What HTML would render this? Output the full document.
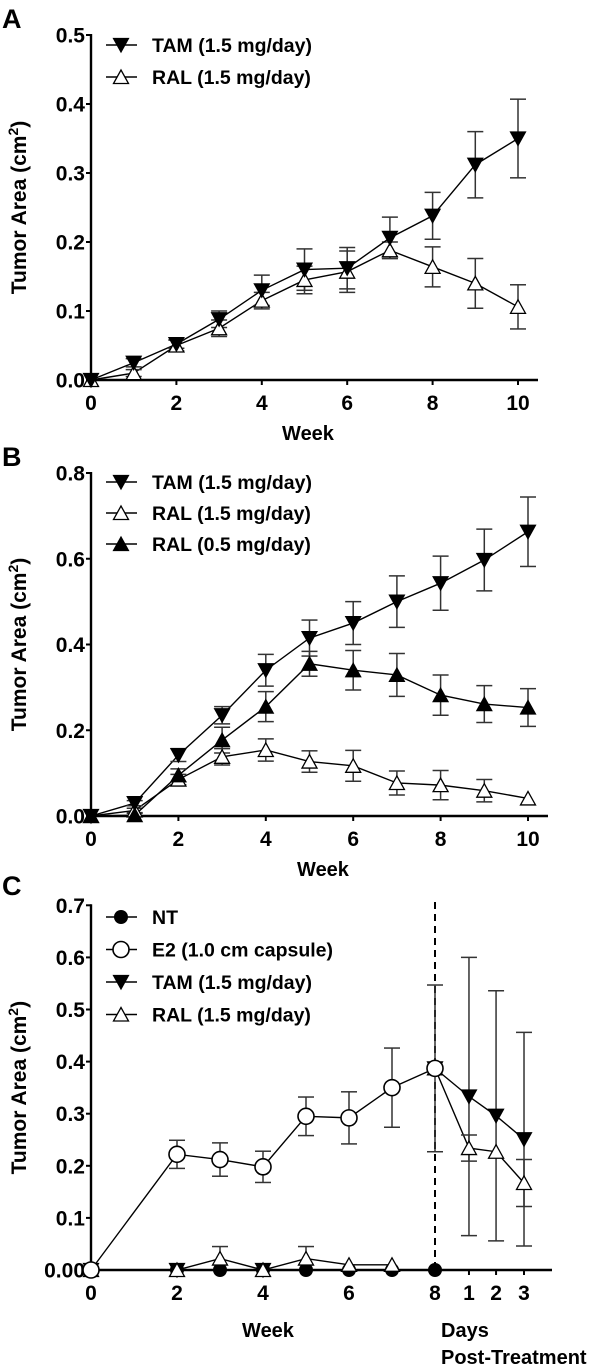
<!DOCTYPE html>
<html><head><meta charset="utf-8">
<style>
html,body{margin:0;padding:0;background:#fff;}
svg{display:block;}
text{font-family:"Liberation Sans",Arial,sans-serif;font-weight:bold;fill:#000;}
</style></head>
<body>
<svg id="fig" width="600" height="1367" viewBox="0 0 600 1367" xmlns="http://www.w3.org/2000/svg"></svg>
<script>
// ---------- Panel A data ----------
const weeksAB = [0,1,2,3,4,5,6,7,8,9,10];
const aTickX = [0,2,4,6,8,10];
const aTickY = [0,0.1,0.2,0.3,0.4,0.5];
const aTickYLabels = ["0.0","0.1","0.2","0.3","0.4","0.5"];
const aTam = [0,0.025,0.052,0.088,0.13,0.16,0.162,0.206,0.238,0.312,0.35];
const aTamErr = [0,0.006,0.006,0.012,0.022,0.03,0.03,0.03,0.034,0.048,0.057];
const aRal = [0,0.01,0.05,0.075,0.115,0.145,0.157,0.188,0.164,0.14,0.106];
const aRalErr = [0,0.005,0.008,0.012,0.012,0.02,0.03,0.012,0.029,0.036,0.032];

// ---------- Panel B data ----------
const bTickX = [0,2,4,6,8,10];
const bTickY = [0,0.2,0.4,0.6,0.8];
const bTickYLabels = ["0.0","0.2","0.4","0.6","0.8"];
const bTam = [0,0.03,0.142,0.235,0.34,0.415,0.45,0.5,0.543,0.597,0.663];
const bTamErr = [0,0.006,0.015,0.02,0.037,0.042,0.05,0.06,0.063,0.072,0.081];
const bRal15 = [0,0.013,0.085,0.138,0.154,0.127,0.117,0.077,0.072,0.059,0.041];
const bRal15Err = [0,0.005,0.012,0.019,0.026,0.025,0.036,0.028,0.034,0.026,0];
const bRal05 = [0,0.002,0.095,0.177,0.255,0.355,0.34,0.329,0.282,0.261,0.253];
const bRal05Err = [0,0.004,0.015,0.03,0.035,0.029,0.046,0.05,0.047,0.043,0.044];

// ---------- Panel C data ----------
const cX = [0,2,3,4,5,6,7,8,8.79,9.42,10.07];
const cTickX = [0,2,4,6,8,8.79,9.42,10.07];
const cTickXLabels = ["0","2","4","6","8","1","2","3"];
const cTickY = [0,0.1,0.2,0.3,0.4,0.5,0.6,0.7];
const cTickYLabels = ["0.00","0.1","0.2","0.3","0.4","0.5","0.6","0.7"];
const cNT = [0,0,0,0,0,0,0,0,null,null,null];
const cE2 = [0,0.222,0.212,0.198,0.295,0.292,0.35,0.387,null,null,null];
const cE2Err = [0,0.027,0.032,0.03,0.037,0.05,0.076,0.16,0,0,0];
const cTam = [0,0,null,0,null,null,null,0.387,0.333,0.296,0.251];
const cTamErr = [0,0,0,0,0,0,0,0,0.267,0.24,0.205];
const cRal = [0,0,0.022,0,0.022,0.01,0.01,0.387,0.234,0.227,0.167];
const cRalErr = [0,0,0.023,0,0.023,0,0,0,0.025,0,0.045];
const cBreakIndex = 7; // post-treatment segment starts at week 8

const NS = "http://www.w3.org/2000/svg";
const svg = document.getElementById('fig');
function mk(tag, attrs, parent){
  const e = document.createElementNS(NS, tag);
  for (const k in attrs) e.setAttribute(k, attrs[k]);
  (parent||svg).appendChild(e);
  return e;
}
function txt(s, x, y, size, anchor, parent){
  const t = mk('text', {x:x, y:y, 'font-size':size, 'text-anchor':anchor||'start'}, parent);
  t.textContent = s;
  return t;
}
function marker(kind, x, y, g){
  let e;
  if (kind==='down') e = mk('polygon',{points:`${x-7.5},${y-6.5} ${x+7.5},${y-6.5} ${x},${y+7}`,fill:'#000',stroke:'#000','stroke-width':1.2},g);
  else if (kind==='up') e = mk('polygon',{points:`${x-7.5},${y+6.5} ${x+7.5},${y+6.5} ${x},${y-7}`,fill:'#000',stroke:'#000','stroke-width':1.2},g);
  else if (kind==='upOpen') e = mk('polygon',{points:`${x-7.5},${y+6.5} ${x+7.5},${y+6.5} ${x},${y-7}`,fill:'#fff',stroke:'#000','stroke-width':1.3},g);
  else if (kind==='dot') e = mk('circle',{cx:x,cy:y,r:7,fill:'#000'},g);
  else e = mk('circle',{cx:x,cy:y,r:8,fill:'#fff',stroke:'#000','stroke-width':1.6},g);
  return e;
}

function panel(cfg){
  const g = mk('g',{});
  
  
  const sx = v => cfg.x0 + v*cfg.xs;
  const sy = v => cfg.y0 - v*cfg.ys;
  const L = txt(cfg.letter, 2, cfg.letterY, 27, 'start', g);
  
  
  const ymax = cfg.tickY[cfg.tickY.length-1];
  const ya = mk('line',{x1:cfg.x0,y1:sy(ymax)-1,x2:cfg.x0,y2:cfg.y0+1.2,stroke:'#000','stroke-width':2.4},g);
  
  
  const xa = mk('line',{x1:cfg.x0-1.2,y1:cfg.y0,x2:cfg.xEnd,y2:cfg.y0,stroke:'#000','stroke-width':2.4},g);
  
  
  cfg.tickY.forEach((v,i)=>{
    mk('line',{x1:cfg.x0-5,y1:sy(v),x2:cfg.x0,y2:sy(v),stroke:'#000','stroke-width':2},g);
    const t = txt(cfg.tickYLabels[i], cfg.x0-6, sy(v)+7.5, 21, 'end', g);
    
    
  });
  cfg.tickX.forEach((v,i)=>{
    mk('line',{x1:sx(v),y1:cfg.y0,x2:sx(v),y2:cfg.y0+5,stroke:'#000','stroke-width':2},g);
    const t = txt(cfg.tickXLabels[i], sx(v), cfg.y0+30, 21, 'middle', g);
    
    
  });
  const cy = (sy(ymax)+cfg.y0)/2;
  const yt = txt('Tumor Area (cm', 0, 0, 21, 'middle', g);
  yt.setAttribute('transform', `translate(26,${cy}) rotate(-90)`);
  const sup = document.createElementNS(NS,'tspan');
  sup.setAttribute('font-size','14'); sup.setAttribute('dy','-8'); sup.textContent='2';
  yt.appendChild(sup);
  const cl = document.createElementNS(NS,'tspan');
  cl.setAttribute('dy','8'); cl.textContent=')';
  yt.appendChild(cl);
  
  
  cfg.extra && cfg.extra(g, sx, sy);
  cfg.series.forEach(s=>{
    const sg = mk('g',{},g);
    
    
    const segs = [[]];
    s.vals.forEach((v,i)=>{
      if (s.brk !== undefined && i === s.brk) segs.push([]);
      if(v!==null) segs[segs.length-1].push([sx(cfg.xv[i]), sy(v)]);
    });
    segs.forEach(pts=>{
      if (pts.length<2) return;
      const pl = mk('polyline',{points:pts.map(p=>p.join(',')).join(' '),fill:'none',stroke:'#000','stroke-width':1.4},sg);
      
      
    });
    s.vals.forEach((v,i)=>{
      if(v===null || !s.err || !s.err[i]) return;
      const x = sx(cfg.xv[i]);
      const e = s.err[i];
      const eg = mk('g',{stroke:'#333','stroke-width':1.5},sg);
      
      
      mk('line',{x1:x,y1:sy(v+e),x2:x,y2:sy(Math.max(v-e,0))},eg);
      mk('line',{x1:x-8,y1:sy(v+e),x2:x+8,y2:sy(v+e)},eg);
      if (v-e>0) mk('line',{x1:x-8,y1:sy(v-e),x2:x+8,y2:sy(v-e)},eg);
    });
  });
  cfg.series.forEach(s=>{
    s.vals.forEach((v,i)=>{
      if(v===null) return;
      const m = marker(s.kind, sx(cfg.xv[i]), sy(v), g);
      
      
    });
  });
  cfg.legend.forEach((s,i)=>{
    const y = cfg.legY + i*cfg.legDy;
    const lg = mk('g',{},g);
    
    
    mk('line',{x1:106,y1:y,x2:137,y2:y,stroke:'#000','stroke-width':1.4},lg);
    marker(s.kind, 121, y, lg);
    txt(s.label, 152, y+7, 19.5, 'start', lg);
  });
  cfg.xTitles.forEach(t=>{
    const e = txt(t[0], t[1], t[2], 20, t[3]||'middle', g);
    
    
  });
}

panel({name:'panel-a', letter:'A', letterY:28, x0:91, xs:42.7, y0:380, ys:690, xEnd:538,
  xv:weeksAB, tickX:aTickX, tickXLabels:aTickX.map(String), tickY:aTickY, tickYLabels:aTickYLabels,
  series:[{key:'ral-1-5',kind:'upOpen',vals:aRal,err:aRalErr},{key:'tam-1-5',kind:'down',vals:aTam,err:aTamErr}],
  legend:[{kind:'down',label:'TAM (1.5 mg/day)'},{kind:'upOpen',label:'RAL (1.5 mg/day)'}], legY:45, legDy:32,
  xTitles:[['Week',308,440]]});

panel({name:'panel-b', letter:'B', letterY:466, x0:91, xs:43.7, y0:816, ys:428.75, xEnd:548,
  xv:weeksAB, tickX:bTickX, tickXLabels:bTickX.map(String), tickY:bTickY, tickYLabels:bTickYLabels,
  series:[{key:'ral-1-5',kind:'upOpen',vals:bRal15,err:bRal15Err},{key:'ral-0-5',kind:'up',vals:bRal05,err:bRal05Err},{key:'tam-1-5',kind:'down',vals:bTam,err:bTamErr}],
  legend:[{kind:'down',label:'TAM (1.5 mg/day)'},{kind:'upOpen',label:'RAL (1.5 mg/day)'},{kind:'up',label:'RAL (0.5 mg/day)'}], legY:482, legDy:31,
  xTitles:[['Week',323,876]]});

panel({name:'panel-c', letter:'C', letterY:895, x0:91, xs:43, y0:1270, ys:521, xEnd:552,
  xv:cX, tickX:cTickX, tickXLabels:cTickXLabels, tickY:cTickY, tickYLabels:cTickYLabels,
  extra:(g,sx,sy)=>{
    const d = mk('line',{x1:sx(8),y1:902,x2:sx(8),y2:1270,stroke:'#000','stroke-width':2,'stroke-dasharray':'7,5'},g);
    
    
  },
  series:[{key:'nt',kind:'dot',vals:cNT,err:null},{key:'tam-1-5',kind:'down',vals:cTam,err:cTamErr,brk:cBreakIndex},{key:'ral-1-5',kind:'upOpen',vals:cRal,err:cRalErr,brk:cBreakIndex},{key:'e2',kind:'circle',vals:cE2,err:cE2Err}],
  legend:[{kind:'dot',label:'NT'},{kind:'circle',label:'E2 (1.0 cm capsule)'},{kind:'down',label:'TAM (1.5 mg/day)'},{kind:'upOpen',label:'RAL (1.5 mg/day)'}], legY:917, legDy:32.5,
  xTitles:[['Week',268,1337],['Days',441,1337,'start'],['Post-Treatment',441,1364,'start']]});
</script>
</body></html>
